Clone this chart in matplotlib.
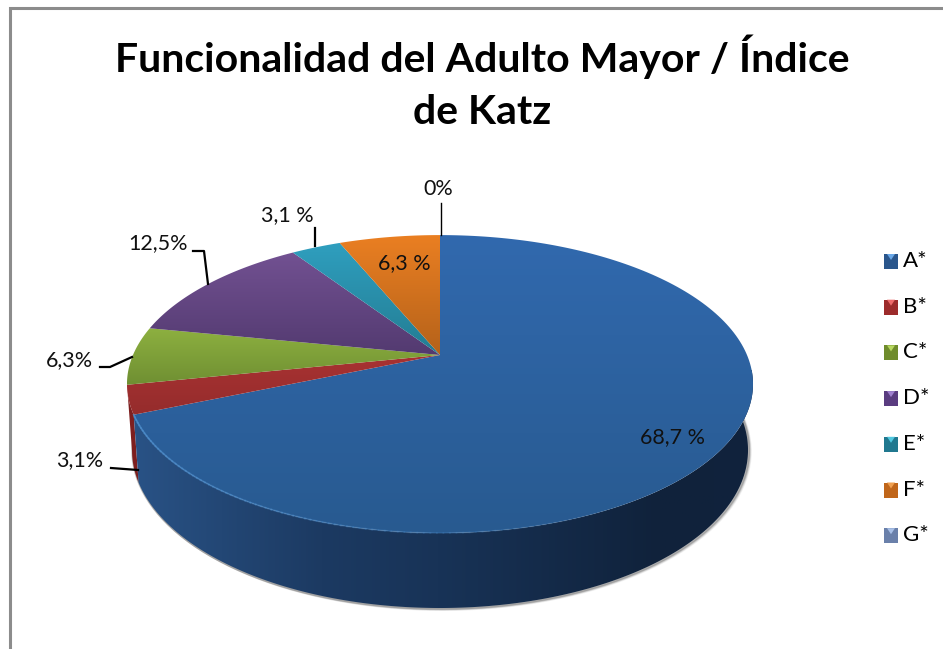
import numpy as np
import matplotlib
matplotlib.use('Agg')
import matplotlib.pyplot as plt
from matplotlib.colors import LinearSegmentedColormap
from matplotlib.patches import Polygon, Rectangle

plt.rcParams['font.family'] = ['Lato', 'DejaVu Sans']

# Datos del grafico
categorias = ['A*', 'B*', 'C*', 'D*', 'E*', 'F*', 'G*']
valores = [68.7, 3.1, 6.3, 12.5, 3.1, 6.3, 0]
etiquetas = ['68,7 %', '3,1%', '6,3%', '12,5%', '3,1 %', '6,3 %', '0%']
titulo = 'Funcionalidad del Adulto Mayor / Índice\nde Katz'

# Colores de cada sector (arriba, abajo) y de la leyenda
color_arriba = ['#3169ae', '#a83232', '#8db040', '#725192', '#2f9fbf', '#ea7f22', '#7f93bb']
color_abajo = ['#285a90', '#952c2c', '#6f8f32', '#533a70', '#237c92', '#b5621a', '#5d7096']
color_leyenda = ['#2a568c', '#9c2b2b', '#6f8c2c', '#5a3c80', '#20788f', '#c0661a', '#6a80aa']
color_brillo = ['#6aa8e8', '#ee6a6a', '#b8d860', '#a080d0', '#50c8e0', '#f0a050', '#a8c0e8']

fig = plt.figure(figsize=(9.43, 6.49), dpi=100, facecolor='white')
ax = fig.add_axes([0, 0, 1, 1])
ax.set_xlim(0, 943)
ax.set_ylim(649, 0)
ax.axis('off')

# Borde del grafico
ax.plot([10, 10, 943], [649, 7.5, 7.5], color='#8c8c8c', lw=2.2, solid_joinstyle='miter', zorder=1)


# Proyeccion del disco con perspectiva (angulo en grados, horario desde arriba)
def disco(ang):
    t = np.radians(ang)
    u, v = np.sin(t), np.cos(t)
    w = 1 + 0.195 * v
    return 440 + 307 * u / w, 355 - 143.3 * v / w


def base(ang):
    x, y = disco(ang)
    return 441 + (x - 441) * 308 / 313, 450 + (y - 384) * 158 / 149


fin = np.cumsum(valores) * 3.6
ini = np.concatenate([[0], fin[:-1]])

# Sombra bajo la pared
a = np.linspace(60, 262, 200)
bx, by = base(a)
for d, al in [(4, 0.08), (3, 0.12), (2, 0.2), (1, 0.3)]:
    ax.plot(bx + d * 0.6, by + d * 0.4, color='#555555', alpha=al, lw=2, zorder=2)

# Pared lateral: primero B, luego A por delante
a = np.linspace(ini[1], fin[1], 12)
tx, ty = disco(a)
bx, by = base(a)
ax.fill(np.r_[tx, bx[::-1]], np.r_[ty, by[::-1]], color='#7d1f1f', lw=0, zorder=3)

a = np.linspace(60, fin[0], 320)
tx, ty = disco(a)
bx, by = base(a)
pared = np.c_[np.r_[tx, bx[::-1]], np.r_[ty, by[::-1]]]
pared_cmap = LinearSegmentedColormap.from_list(
    'pared', [(0, '#2a5488'), (0.31, '#1c3a62'), (0.49, '#183357'), (0.83, '#10223b'), (1, '#10233d')])
im = ax.imshow(np.linspace(0, 1, 256)[None, :], cmap=pared_cmap, aspect='auto',
               extent=[120, 770, 620, 370], zorder=4)
im.set_clip_path(Polygon(pared, closed=True, transform=ax.transData))

# Cara superior con degradado en cada sector
for i in range(len(valores)):
    if valores[i] == 0:
        continue
    a = np.linspace(ini[i], fin[i], 200)
    rx, ry = disco(a)
    px = np.r_[440, rx]
    py = np.r_[355, ry]
    cmap = LinearSegmentedColormap.from_list('g', [color_arriba[i], color_abajo[i]])
    im = ax.imshow(np.linspace(0, 1, 256)[:, None], cmap=cmap, aspect='auto',
                   extent=[px.min(), px.max(), py.max(), py.min()], zorder=5)
    im.set_clip_path(Polygon(np.c_[px, py], closed=True, transform=ax.transData))
ax.set_xlim(0, 943)
ax.set_ylim(649, 0)

# Brillo en el borde delantero
a = np.linspace(fin[0], 150, 100)
tx, ty = disco(a)
for i in range(len(a) - 1):
    alf = 0.7 * (1 - i / len(a))
    ax.plot(tx[i:i + 2], ty[i:i + 2], color='#4a8ccc', alpha=alf, lw=1.3, zorder=6)

# Lineas guia
guias = [([441, 441], [203, 235], 1.0),
         ([315, 315], [228, 246], 1.6),
         ([193, 204, 208], [251, 251, 284], 1.6),
         ([100, 110, 132], [367, 367, 357], 1.6),
         ([111, 138], [468, 470], 1.6)]
for gx, gy, lw in guias:
    ax.plot(gx, gy, color='black', lw=lw, zorder=7)

# Etiquetas
pos_etq = [(672, 437), (80, 460), (69, 360), (158, 243), (287, 215), (404, 263), (438, 189)]
for texto, (x, y) in zip(etiquetas, pos_etq):
    ax.text(x, y, texto, ha='center', va='center', fontsize=15.5, color='#111111', zorder=8)

# Leyenda
for i, cat in enumerate(categorias):
    y = 261 + i * 45.7
    ax.add_patch(Rectangle((884, y - 7), 14, 15, facecolor=color_leyenda[i], edgecolor='none', zorder=5))
    ax.add_patch(Polygon([[887, y - 7], [895, y - 7], [891, y - 1]], facecolor=color_brillo[i],
                         edgecolor='none', zorder=6))
    ax.text(903, y, cat, ha='left', va='center', fontsize=16, color='black', zorder=8)

ax.text(482, 83, titulo, ha='center', va='center', fontsize=29.5, fontweight='bold',
        color='black', linespacing=1.5, zorder=8)

fig.savefig('out.png', dpi=100, facecolor='white')
